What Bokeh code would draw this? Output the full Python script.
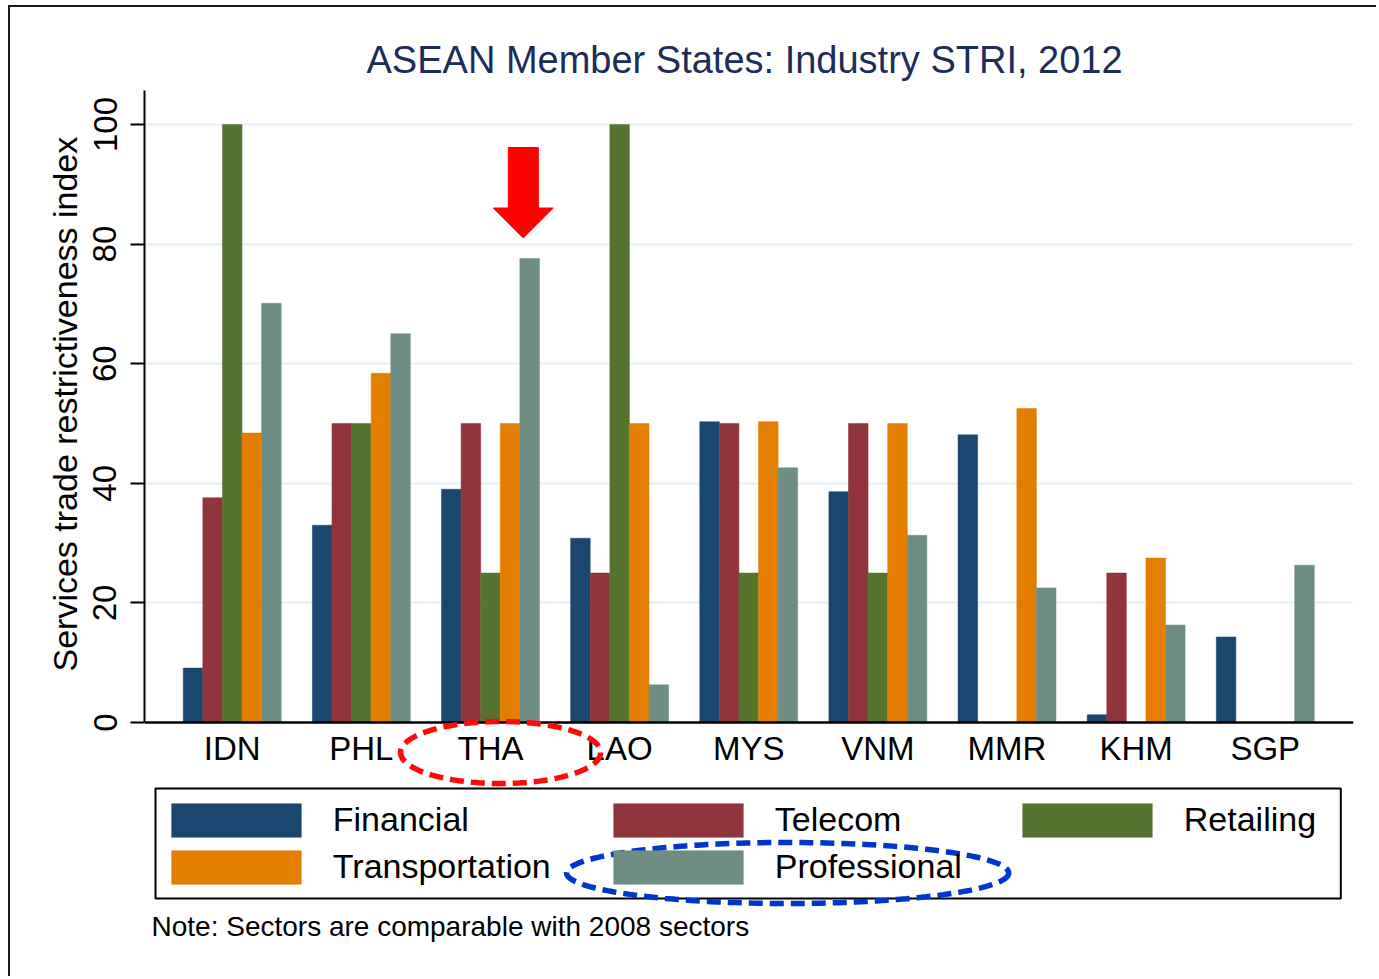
import numpy as np
from bokeh.plotting import figure
from bokeh.models import (Range1d, FixedTicker, Legend, LegendItem, PolyAnnotation,
                          BoxAnnotation, Label, Title, ColumnDataSource)
from bokeh.transform import dodge
from bokeh.embed import file_html
from bokeh.resources import INLINE

countries = ["IDN", "PHL", "THA", "LAO", "MYS", "VNM", "MMR", "KHM", "SGP"]
financial = [9.1, 33.0, 39.0, 30.8, 50.3, 38.6, 48.1, 1.3, 14.3]
telecom = [37.6, 50.0, 50.0, 25.0, 50.0, 50.0, 0.0, 25.0, 0.0]
retailing = [100.0, 50.0, 25.0, 100.0, 25.0, 25.0, 0.0, 0.0, 0.0]
transportation = [48.4, 58.4, 50.0, 50.0, 50.3, 50.0, 52.5, 27.5, 0.0]
professional = [70.1, 65.0, 77.6, 6.3, 42.6, 31.3, 22.5, 16.3, 26.3]
sectors = ["Financial", "Telecom", "Retailing", "Transportation", "Professional"]
colors = ["#1a476f", "#90353b", "#55752f", "#e37e00", "#6e8e84"]
y_ticks = [0, 20, 40, 60, 80, 100]

FONT = "Liberation Sans"

source = ColumnDataSource(dict(
    x=list(range(len(countries))),
    Financial=financial, Telecom=telecom, Retailing=retailing,
    Transportation=transportation, Professional=professional,
))

# page-pixel -> data helpers (used only to place annotations)
X0_PX, STEP_PX = 231.7, 129.1
Y0_PX, YSCALE = 722.0, 5.98
def px2x(px):
    return (px - X0_PX) / STEP_PX
def px2y(py):
    return (Y0_PX - py) / YSCALE

OX, OY = 10, 7          # canvas origin on the page (margin + border)
W, H = 1368, 971
FRAME_L, FRAME_R, FRAME_T, FRAME_B = 144, 1352.7, 90, OY + H

p = figure(width=W, height=H, output_backend="svg", toolbar_location=None,
           x_range=Range1d(px2x(FRAME_L), px2x(FRAME_R)),
           y_range=Range1d(px2y(FRAME_B), px2y(FRAME_T)),
           min_border_left=FRAME_L - OX, min_border_right=int(OX + W - FRAME_R),
           min_border_top=FRAME_T - OY, min_border_bottom=0)

p.styles = {"margin-left": "8px", "margin-top": "5px",
            "border-left": "2px solid #1a1a1a", "border-top": "2px solid #1a1a1a"}

bw = 0.1517
renderers = []
for i, (s, c) in enumerate(zip(sectors, colors)):
    r = p.vbar(x=dodge("x", (i - 2) * bw, range=p.x_range), top=s, width=bw,
               source=source, fill_color=c, line_color=c, line_width=0.5)
    renderers.append(r)

# title
p.title.text = "ASEAN Member States: Industry STRI, 2012"
p.title.text_font = FONT
p.title.text_font_size = "38px"
p.title.text_font_style = "normal"
p.title.text_color = "#1c2d59"
p.title.align = "left"
p.title.offset = 366 - FRAME_L
p.title.standoff = 20

p.outline_line_color = None
p.background_fill_color = "white"
p.border_fill_color = "white"

# grid
p.xgrid.visible = False
p.ygrid.ticker = FixedTicker(ticks=y_ticks)
p.ygrid.grid_line_color = "#e8f0f2"
p.ygrid.grid_line_width = 2

# x axis, drawn at y = 0
xa = p.xaxis[0]
xa.fixed_location = 0
xa.ticker = FixedTicker(ticks=list(range(len(countries))))
xa.major_label_overrides = {i: c for i, c in enumerate(countries)}
xa.major_tick_line_color = None
xa.minor_tick_line_color = None
xa.axis_line_width = 2.5
xa.axis_line_color = "black"
xa.major_label_text_font = FONT
xa.major_label_text_font_size = "33px"
xa.major_label_text_color = "black"
xa.major_label_standoff = 1

# y axis
ya = p.yaxis[0]
ya.bounds = (0, px2y(FRAME_T))
ya.ticker = FixedTicker(ticks=y_ticks)
ya.major_label_orientation = "vertical"
ya.major_tick_out = 14
ya.major_tick_in = 0
ya.major_tick_line_width = 2
ya.minor_tick_line_color = None
ya.axis_line_width = 2
ya.axis_line_color = "black"
ya.major_label_text_font = FONT
ya.major_label_text_font_size = "33px"
ya.major_label_text_color = "black"
ya.major_label_standoff = 14

# y axis title, centred on the 0..top part of the axis
ytitle = Title(text="Services trade restrictiveness index", align="left",
               offset=FRAME_B - 671, standoff=14, text_font=FONT,
               text_font_size="34px", text_font_style="normal", text_color="black")
p.add_layout(ytitle, "left")

# legend: frame box + three columns
p.add_layout(BoxAnnotation(left=px2x(155), right=px2x(1340), top=px2y(788), bottom=px2y(898),
                           fill_alpha=0, line_color="black", line_alpha=1, line_width=2,
                           level="overlay"))

def make_legend(idx, left_px, bottom_px):
    its = [LegendItem(label=sectors[k], renderers=[renderers[k]]) for k in idx]
    lg = Legend(items=its, location=(left_px - FRAME_L, FRAME_B - bottom_px),
                orientation="vertical",
                glyph_width=162, glyph_height=42, label_standoff=16,
                label_height=42, label_width=10,
                label_text_font=FONT, label_text_font_size="34px",
                label_text_color="black",
                spacing=5, padding=0, margin=0,
                border_line_color=None, background_fill_alpha=0)
    p.add_layout(lg, "center")

make_legend([0, 3], 154.8, 887.8)
make_legend([1, 4], 596.8, 887.8)
make_legend([2], 1005.8, 840.8)

# red arrow over THA professional bar
ax = px2x(522.7)
sh, hh = 15 / STEP_PX, 30 / STEP_PX
ytop, ybase, ytip = px2y(147), px2y(207.5), px2y(237.5)
p.patch(x=[ax - sh, ax + sh, ax + sh, ax + hh, ax, ax - hh, ax - sh],
        y=[ytop, ytop, ybase, ybase, ytip, ybase, ybase],
        fill_color="#ff0000", line_color="#ff0000", line_width=1)

def ellipse(cx, cy, rx, ry, n=240):
    t = np.linspace(0, 2 * np.pi, n)
    return [px2x(v) for v in cx + rx * np.cos(t)], [px2y(v) for v in cy + ry * np.sin(t)]

ex, ey = ellipse(500, 752, 100, 31)
p.add_layout(PolyAnnotation(xs=ex, ys=ey, fill_alpha=0, line_color="#ff0a0a", line_alpha=1,
                            line_width=5.5, line_dash="14 7", level="overlay"))
bx, by = ellipse(787, 872.5, 221, 30.5)
p.add_layout(PolyAnnotation(xs=bx, ys=by, fill_alpha=0, line_color="#0036cc", line_alpha=1,
                            line_width=5.5, line_dash="14 7", level="overlay"))

p.add_layout(Label(x=px2x(151), y=px2y(925.5),
                   text="Note:  Sectors are comparable with 2008 sectors",
                   text_font=FONT, text_font_size="28px", text_color="black",
                   text_baseline="alphabetic"))

open("out.html", "w").write(file_html(p, INLINE))
